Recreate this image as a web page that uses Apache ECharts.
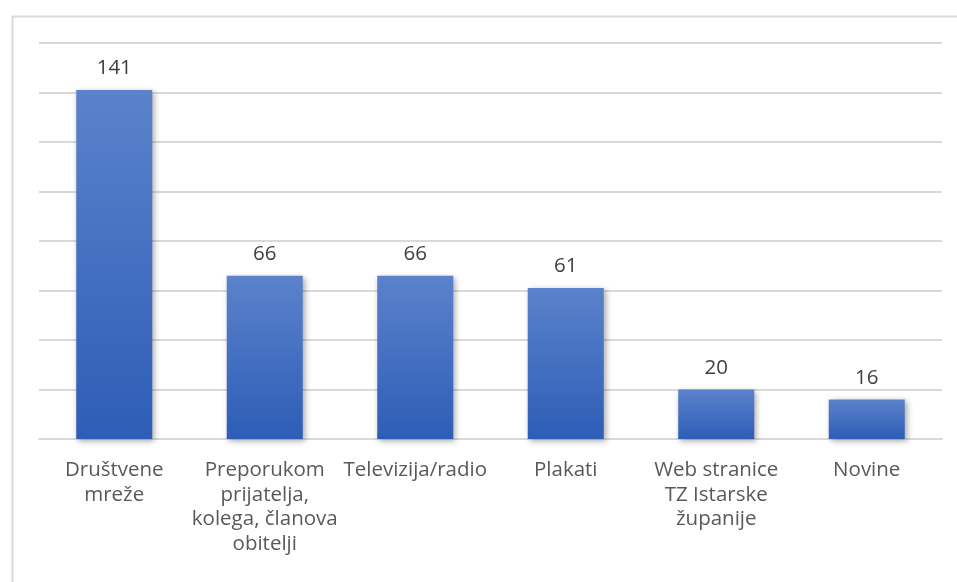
<!DOCTYPE html>
<html>
<head>
<meta charset="utf-8">
<script src="https://cdn.jsdelivr.net/npm/echarts@6/dist/echarts.min.js"></script>
<style>html,body{margin:0;padding:0;background:#fff}#c{width:957px;height:582px}</style>
</head>
<body>
<div id="c"></div>
<script>
const categories = ["Društvene\nmreže", "Preporukom\nprijatelja,\nkolega, članova\nobitelji", "Televizija/radio", "Plakati", "Web stranice\nTZ Istarske\nžupanije", "Novine"];
const values = [141, 66, 66, 61, 20, 16];
const yMin = 0, yMax = 160, yStep = 20;

const FONT = '"Open Sans", sans-serif';
const chart = echarts.init(document.getElementById('c'), null, {renderer: 'canvas'});
chart.setOption({
  animation: false,
  backgroundColor: '#fff',
  textStyle: {fontFamily: FONT},
  graphic: [{
    type: 'rect', left: 10, top: 14, shape: {width: 980, height: 620},
    style: {fill: 'none', stroke: '#d9d9d9', lineWidth: 2}
  }],
  grid: {left: 39, right: 15, top: 43, bottom: 143, containLabel: false},
  xAxis: {
    type: 'category', data: categories,
    axisTick: {show: false},
    axisLine: {lineStyle: {color: '#d9d9d9', width: 2}},
    axisLabel: {color: '#595959', fontSize: 20.5, lineHeight: 24.5, margin: 19, interval: 0, fontFamily: FONT}
  },
  yAxis: {
    type: 'value', min: yMin, max: yMax, interval: yStep,
    axisLabel: {show: false}, axisLine: {show: false}, axisTick: {show: false},
    splitLine: {lineStyle: {color: '#d9d9d9', width: 2}}
  },
  series: [{
    type: 'bar', data: values, barWidth: '50.5%',
    itemStyle: {
      color: new echarts.graphic.LinearGradient(0, 0, 0, 1, [
        {offset: 0, color: '#5b82cb'}, {offset: 1, color: '#2e5db7'}
      ]),
      shadowBlur: 6, shadowColor: 'rgba(0,0,0,0.35)', shadowOffsetX: 2, shadowOffsetY: 2
    },
    label: {show: true, position: 'top', distance: 11, color: '#404040', fontSize: 20.5, fontFamily: FONT}
  }]
});
</script>
</body>
</html>
